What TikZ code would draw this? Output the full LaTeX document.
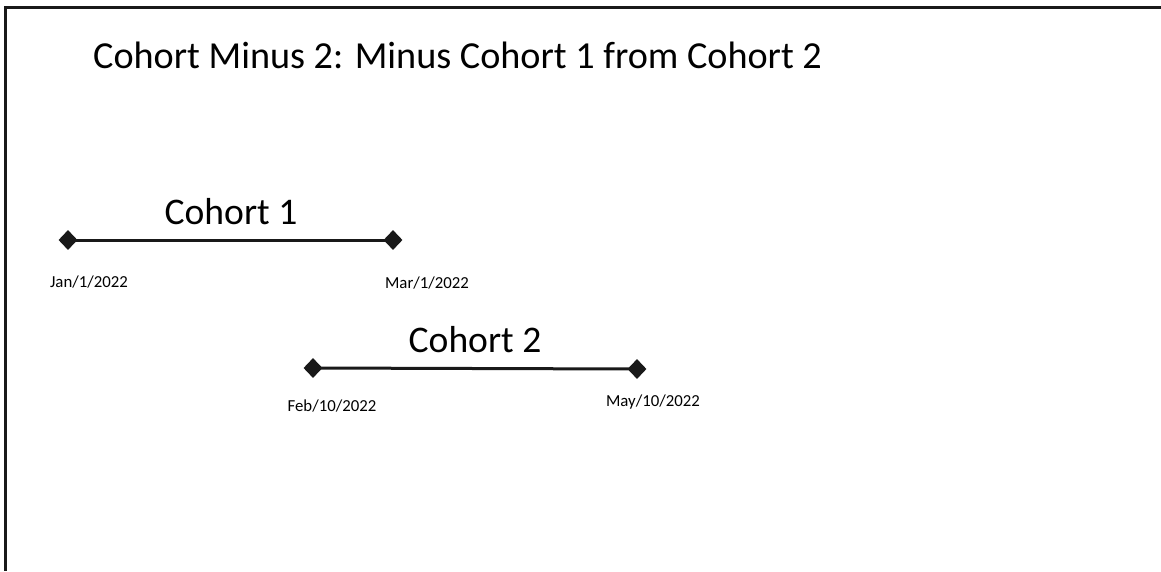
\documentclass[tikz,border=0pt]{standalone}
\usepackage{fontspec}
\setmainfont{Carlito}
\usetikzlibrary{shapes.geometric}
\begin{document}
\begin{tikzpicture}[x=1pt,y=-1pt,
  endpt/.style={diamond,fill=black!90,inner sep=0pt,minimum width=19pt,minimum height=20pt},
  span/.style={line width=3pt,black!90},
  datelbl/.style={anchor=base,inner sep=0pt,font=\fontsize{16.8}{19}\selectfont},
  cohortlbl/.style={anchor=base,inner sep=0pt,font=\fontsize{37.6}{42}\selectfont},
  frame/.style={line width=3pt,black!90}]
\useasboundingbox (0,0) rectangle (1161,571);
\coordinate (tl) at (5.5,7);
\coordinate (tr) at (1161,7);
\coordinate (bl) at (5.5,571);
\draw[frame] (tr) -- (tl) -- (bl);
\node[anchor=base west,inner sep=0pt,font=\fontsize{38.2}{43}\selectfont] (title) at (93,68) {Cohort Minus 2: Minus Cohort 1 from Cohort 2};
\node[endpt] (a1) at (68,240) {};
\node[endpt] (a2) at (393,240) {};
\draw[span] (a1.center) -- (a2.center);
\node[cohortlbl] (c1) at (231,224) {Cohort 1};
\node[datelbl] (d1) at (89,287) {Jan/1/2022};
\node[datelbl] (d2) at (427,288) {Mar/1/2022};
\node[endpt] (b1) at (313,368) {};
\node[endpt] (b2) at (637,369) {};
\draw[span] (b1.center) -- (b2.center);
\node[cohortlbl] (c2) at (475,352) {Cohort 2};
\node[datelbl] (d3) at (332,411) {Feb/10/2022};
\node[datelbl] (d4) at (653,406) {May/10/2022};
\end{tikzpicture}
\end{document}
